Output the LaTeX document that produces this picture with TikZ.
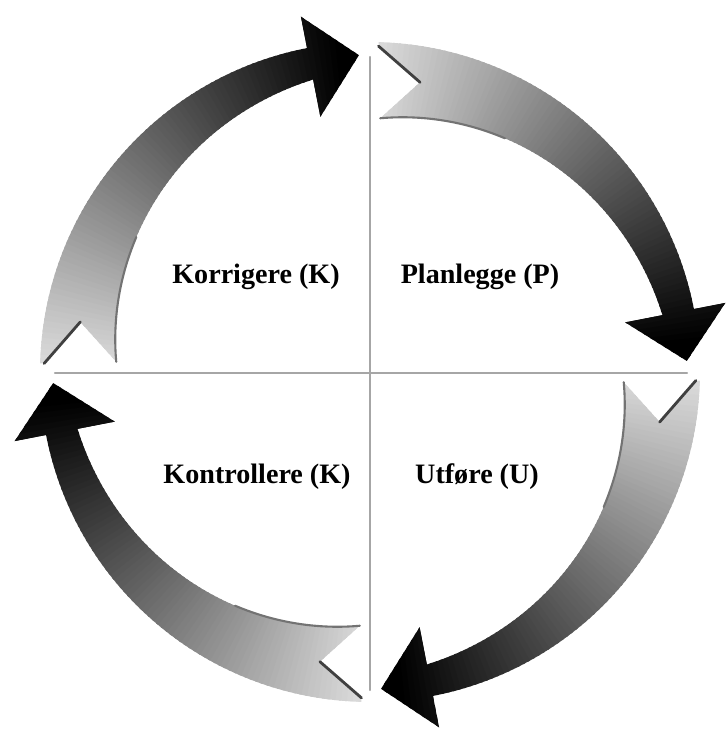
\documentclass[tikz,border=0pt]{standalone}
\usepackage{fontspec}
\setmainfont{Liberation Serif}
\begin{document}
\begin{tikzpicture}[x=0.02cm,y=0.02cm,line join=round,line cap=round,
  phase/.style={font=\bfseries\fontsize{16}{19}\selectfont,anchor=base},
  axis/.style={black!35,line width=1.3pt}]
\def\ro{330} \def\rj{298} % outer radius, inner radius at the head
\useasboundingbox (-370,-363) rectangle (356,372);
\coordinate (N) at (0,315); \coordinate (S) at (0,-318);
\coordinate (W) at (-315,-1); \coordinate (E) at (317,-1);
\draw[axis] (N)--(S);
\draw[axis] (W)--(E);
\foreach \r in {0,90,180,270}{
\begin{scope}[rotate=\r]
\begin{scope}
\clip (88.5:326) -- plot[domain=88.5:11,samples=40] (\x:\ro) -- (11:362) -- (2:317)
  -- (11:260) -- (11:\rj) -- plot[domain=11:87.7,samples=40] (\x:{\rj-(\x-11)*0.574})
  -- (80.2:294) -- cycle;
\foreach \a in {91,90,...,1}{
  \pgfmathsetmacro\c{min(100,max(15,15+80*(88-\a)/77))}
  \fill[black!\c] (\a:230) -- (\a:380) -- ({\a-1.4}:380) -- ({\a-1.4}:230) -- cycle;}
\end{scope}
\draw[black!75,line width=1.6pt] (88.5:326) -- (80.2:294);
\draw[black!55,line width=1.2pt] plot[domain=60:87.7,samples=20] (\x:{\rj-(\x-11)*0.574});
\end{scope}}
\node[phase] (kor) at (-114,89) {Korrigere (K)};
\node[phase] (pla) at (110,89) {Planlegge (P)};
\node[phase] (kon) at (-113,-111) {Kontrollere (K)};
\node[phase] (utf) at (107,-111) {Utføre (U)};
\end{tikzpicture}
\end{document}
